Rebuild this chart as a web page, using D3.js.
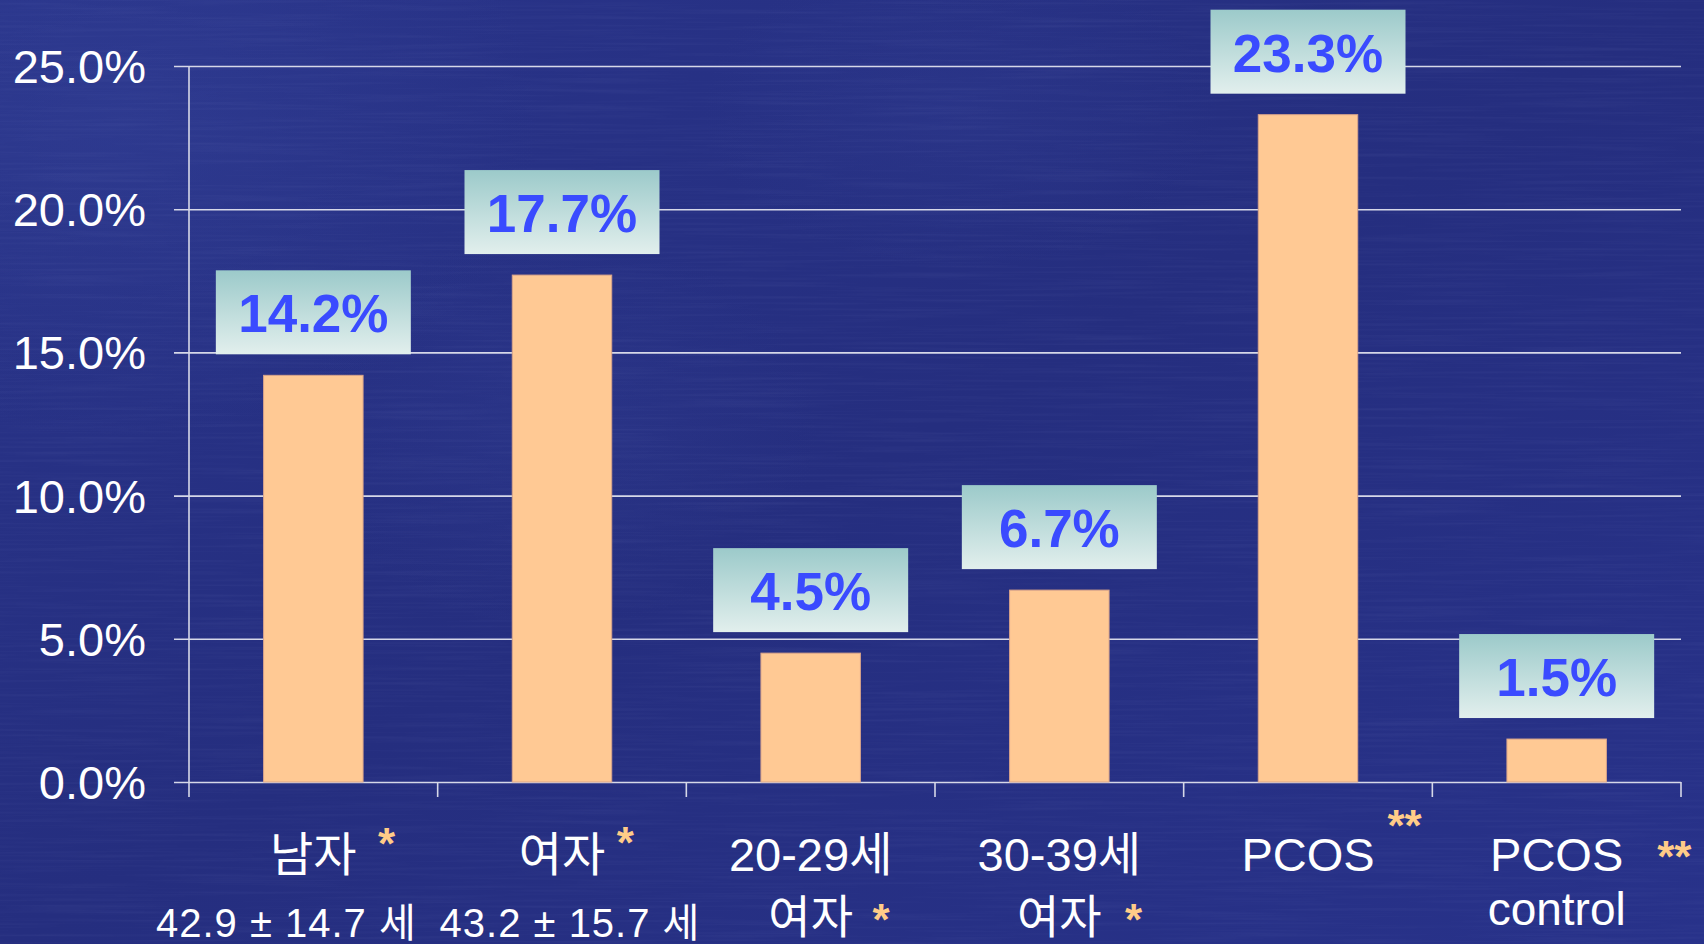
<!DOCTYPE html>
<html>
<head>
<meta charset="utf-8">
<script src="https://cdn.jsdelivr.net/npm/d3@7"></script>
<style>
  html, body { margin: 0; padding: 0; background: #262f80; overflow: hidden; }
  svg { display: block; }
</style>
</head>
<body>
<svg id="chart" width="1704" height="944"></svg>
<script>
// ---- data ----
const labelMain = ["남자", "여자", "20-29세", "30-39세", "PCOS", "PCOS"];
const labelSub  = ["42.9 ± 14.7 세", "43.2 ± 15.7 세", "여자", "여자", "", "control"];
const marks     = ["*", "*", "*", "*", "**", "**"];
const values    = [14.2, 17.7, 4.5, 6.7, 23.3, 1.5];
const yTicks    = [0, 5, 10, 15, 20, 25];

// ---- layout ----
const W = 1704, H = 944;
const plot = { left: 189, right: 1681, top: 66, bottom: 782 };
const gridStart = 174;
const FONT = "'Liberation Sans', Arial, 'Noto Sans CJK KR', sans-serif";
const lineCol = "#d6d8e8";

// significance mark placement: [attached line (1|2), dx from text end, dy from that line's baseline]
const markPlace = [[1, 30, -28], [1, 20, -29], [2, 28, -14], [2, 32, -14], [1, 30, -46], [1, 51, -15]];
// horizontal nudge of the second label line
const subShift = [-27, 8, 0, 0, 0, 0];

const svg = d3.select("#chart");
const defs = svg.append("defs");

// background
const bgGrad = defs.append("linearGradient").attr("id", "bg")
  .attr("x1", 0).attr("y1", 0).attr("x2", 1).attr("y2", 1);
bgGrad.append("stop").attr("offset", 0).attr("stop-color", "#29348a");
bgGrad.append("stop").attr("offset", 0.5).attr("stop-color", "#252e7f");
bgGrad.append("stop").attr("offset", 1).attr("stop-color", "#28328a");

const glow = defs.append("radialGradient").attr("id", "glow");
glow.append("stop").attr("offset", 0).attr("stop-color", "#3b4aa0").attr("stop-opacity", 0.3);
glow.append("stop").attr("offset", 1).attr("stop-color", "#3b4aa0").attr("stop-opacity", 0);

const grain = defs.append("filter").attr("id", "grain")
  .attr("x", 0).attr("y", 0).attr("width", "100%").attr("height", "100%");
grain.append("feTurbulence").attr("type", "fractalNoise")
  .attr("baseFrequency", "0.006 0.35").attr("numOctaves", 2).attr("seed", 7);
grain.append("feColorMatrix").attr("type", "matrix")
  .attr("values", "0 0 0 0 0.55  0 0 0 0 0.6  0 0 0 0 0.95  0 0 0 1.4 -0.6");

svg.append("rect").attr("width", W).attr("height", H).attr("fill", "url(#bg)");
svg.append("ellipse").attr("cx", 120).attr("cy", 120).attr("rx", 420).attr("ry", 320).attr("fill", "url(#glow)");
svg.append("ellipse").attr("cx", 560).attr("cy", 430).attr("rx", 260).attr("ry", 200).attr("fill", "url(#glow)").attr("opacity", 0.6);
svg.append("ellipse").attr("cx", 960).attr("cy", 110).attr("rx", 260).attr("ry", 160).attr("fill", "url(#glow)").attr("opacity", 0.6);
svg.append("rect").attr("width", W).attr("height", H).attr("filter", "url(#grain)").attr("opacity", 0.07);

// label box gradient
const boxGrad = defs.append("linearGradient").attr("id", "box")
  .attr("x1", 0).attr("y1", 0).attr("x2", 0).attr("y2", 1);
boxGrad.append("stop").attr("offset", 0).attr("stop-color", "#9ccaca");
boxGrad.append("stop").attr("offset", 1).attr("stop-color", "#e2efed");

// ---- scales ----
const x = d3.scaleBand()
  .domain(d3.range(values.length))
  .range([plot.left, plot.right])
  .paddingInner(0.6)
  .paddingOuter(0.3);
const y = d3.scaleLinear().domain([0, 25]).range([plot.bottom, plot.top]);
const cx = i => x(i) + x.bandwidth() / 2;

// ---- y axis with gridlines ----
const yAxis = svg.append("g")
  .attr("transform", `translate(${gridStart},0)`)
  .call(d3.axisLeft(y)
    .tickValues(yTicks)
    .tickSize(-(plot.right - gridStart))
    .tickPadding(28)
    .tickFormat(d => d.toFixed(1) + "%"));
yAxis.select(".domain").remove();
yAxis.selectAll(".tick line").attr("stroke", lineCol).attr("stroke-width", 1.6);
yAxis.selectAll(".tick text")
  .attr("fill", "#ffffff")
  .attr("font-family", FONT)
  .attr("font-size", 47)
  .attr("dy", "0.35em");

// vertical axis line and category separators
svg.append("line")
  .attr("x1", plot.left).attr("x2", plot.left)
  .attr("y1", plot.top).attr("y2", plot.bottom + 15)
  .attr("stroke", lineCol).attr("stroke-width", 1.6);
svg.append("g").selectAll("line")
  .data(d3.range(1, values.length + 1))
  .join("line")
  .attr("x1", i => plot.left + i * x.step())
  .attr("x2", i => plot.left + i * x.step())
  .attr("y1", plot.bottom).attr("y2", plot.bottom + 15)
  .attr("stroke", lineCol).attr("stroke-width", 1.6);

// ---- bars ----
svg.append("g").selectAll("rect")
  .data(values)
  .join("rect")
  .attr("x", (d, i) => x(i))
  .attr("width", x.bandwidth())
  .attr("y", d => y(d))
  .attr("height", d => y(0) - y(d))
  .attr("fill", "#ffc994")
  .attr("stroke", "#d9a48a")
  .attr("stroke-width", 1);

// ---- value boxes ----
const boxW = 195, boxH = 84, boxGap = 21;
const vg = svg.append("g").selectAll("g")
  .data(values)
  .join("g")
  .attr("transform", (d, i) => `translate(${cx(i)},${y(d) - boxGap})`);
vg.append("rect")
  .attr("x", -boxW / 2).attr("y", -boxH)
  .attr("width", boxW).attr("height", boxH)
  .attr("fill", "url(#box)");
vg.append("text")
  .attr("text-anchor", "middle")
  .attr("y", -22)
  .attr("font-family", FONT)
  .attr("font-weight", "bold")
  .attr("font-size", 53)
  .attr("fill", "#3a4bff")
  .text(d => d.toFixed(1) + "%");

// ---- category labels ----
const line1Y = 871;
const cg = svg.append("g").selectAll("g")
  .data(values)
  .join("g");

cg.each(function (d, i) {
  const g = d3.select(this);
  const t1 = g.append("text")
    .attr("x", cx(i)).attr("y", line1Y)
    .attr("text-anchor", "middle")
    .attr("font-family", FONT)
    .attr("font-size", 47)
    .attr("fill", "#ffffff")
    .text(labelMain[i]);

  let t2 = null, line2Y = 0;
  if (labelSub[i]) {
    const small = labelSub[i].includes("±");
    line2Y = small ? 937 : (/[가-힣]/.test(labelSub[i]) ? 933 : 925);
    t2 = g.append("text")
      .attr("x", cx(i) + subShift[i]).attr("y", line2Y)
      .attr("text-anchor", "middle")
      .attr("font-family", FONT)
      .attr("font-size", small ? 40 : 46)
      .attr("letter-spacing", small ? 1 : 0)
      .attr("fill", "#ffffff")
      .text(labelSub[i]);
  }

  const [ln, dx, dy] = markPlace[i];
  const ref = ln === 1 ? t1 : t2;
  const baseY = ln === 1 ? line1Y : line2Y;
  const w = ref.node().getComputedTextLength();
  g.append("text")
    .attr("x", cx(i) + w / 2 + dx)
    .attr("y", baseY + dy)
    .attr("text-anchor", "middle")
    .attr("dominant-baseline", "central")
    .attr("font-family", FONT)
    .attr("font-weight", "bold")
    .attr("font-size", 44)
    .attr("fill", "#ffcc88")
    .text(marks[i]);
});
</script>
</body>
</html>
